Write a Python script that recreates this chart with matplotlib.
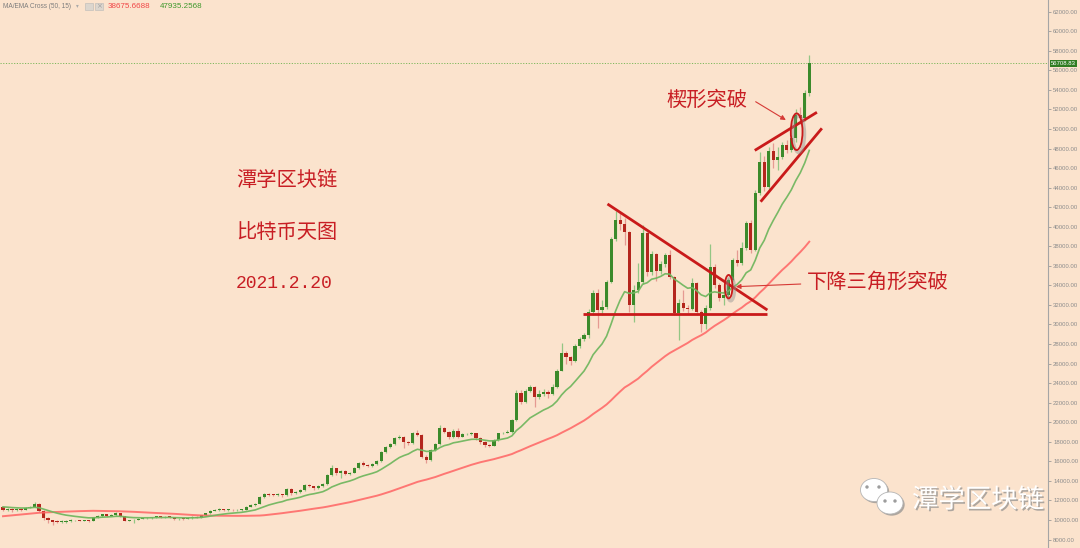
import numpy as np
import pandas as pd
import matplotlib
matplotlib.use('Agg')
import matplotlib.pyplot as plt
import matplotlib.patheffects as pe
from matplotlib.patches import Ellipse, Rectangle
from matplotlib.transforms import blended_transform_factory

plt.rcParams['font.family'] = ['Noto Sans CJK SC', 'DejaVu Sans']

# daily BTC candles, 2020-08-25 .. 2021-02-20
opens = [11380, 11020, 11120, 10990, 11080, 11060, 11250, 11380, 11640, 10960,
         10170, 9950, 9830, 9800, 9810, 9850, 9950, 9960, 9920, 9930,
         9900, 10270, 10400, 10580, 10420, 10510, 10680, 10400, 9940, 9950,
         10000, 10150, 10180, 10210, 10280, 10360, 10270, 10330, 10290, 10080,
         10150, 10130, 10200, 10330, 10250, 10510, 10700, 10950, 10980, 11090,
         11020, 11050, 11000, 11030, 11050, 11360, 11540, 11650, 12390, 12640,
         12600, 12560, 12620, 12550, 13170, 12730, 12900, 13080, 13580, 13450,
         13230, 13480, 13680, 14600, 15280, 14800, 15050, 14750, 14850, 15290,
         15800, 15620, 15560, 15700, 16030, 16990, 17500, 17780, 18360, 18480,
         18000, 17900, 18930, 18700, 16480, 16140, 17160, 17780, 19380, 19040,
         18460, 19140, 18530, 18760, 18800, 18870, 18350, 17990, 17670, 17600,
         18180, 18870, 18930, 19040, 20230, 23020, 22100, 23230, 23570, 22620,
         22900, 23100, 22900, 23640, 25270, 27120, 26710, 26300, 27800, 28480,
         28930, 31310, 33250, 31480, 31820, 34320, 38750, 40690, 40250, 39430,
         32000, 33530, 34370, 39330, 35340, 37180, 35470, 36160, 37110, 34890,
         31200, 32170, 31660, 31600, 34220, 31310, 30020, 31660, 35900, 34000,
         32700, 33020, 34560, 36600, 36300, 37800, 40350, 37620, 43420, 46650,
         44100, 47780, 46830, 47170, 48360, 47850, 49050, 51430, 51100, 53650]
highs = [11480, 11250, 11200, 11200, 11180, 11330, 11480, 11800, 11700, 11020,
         10300, 10050, 9950, 9950, 9950, 10080, 10050, 10050, 10030, 10000,
         10330, 10480, 10650, 10640, 10580, 10800, 10700, 10450, 10050, 10080,
         10220, 10250, 10290, 10350, 10430, 10420, 10400, 10380, 10330, 10220,
         10200, 10270, 10400, 10380, 10560, 10760, 11050, 11080, 11180, 11150,
         11130, 11120, 11100, 11130, 11420, 11600, 11750, 12500, 12800, 12750,
         12700, 12720, 12700, 13250, 13250, 13000, 13180, 13650, 13650, 13500,
         13550, 13800, 14700, 15630, 15350, 15150, 15150, 14950, 15380, 15900,
         16000, 15700, 15800, 16150, 17100, 17600, 17900, 18450, 18700, 18550,
         18100, 19000, 19250, 18800, 16600, 17300, 17900, 19700, 19500, 19100,
         19300, 19400, 18900, 18950, 19050, 18950, 18450, 18050, 17800, 18300,
         18950, 19050, 19200, 20350, 23300, 23300, 23400, 23800, 23700, 23300,
         23400, 23300, 23900, 25400, 28100, 27300, 26800, 28000, 28700, 29100,
         31600, 33500, 33600, 32500, 34600, 39000, 41610, 41400, 40900, 39600,
         34000, 36260, 40180, 39500, 37500, 37300, 36500, 37300, 37600, 35000,
         32600, 33530, 32000, 34800, 34300, 31500, 32000, 38200, 36200, 34200,
         33500, 34800, 36800, 37620, 38400, 40600, 40690, 43800, 47680, 47200,
         48200, 48540, 48200, 48700, 48900, 49400, 52000, 52300, 54000, 57570]
lows = [10930, 10900, 10850, 10880, 10950, 11000, 11200, 11330, 10850, 9950,
        9700, 9500, 9650, 9700, 9720, 9780, 9870, 9850, 9850, 9820,
        9860, 10200, 10350, 10330, 10380, 10450, 10300, 9850, 9850, 9650,
        9950, 10080, 10120, 10150, 10220, 10200, 10200, 10220, 10000, 10030,
        10050, 10080, 10150, 10180, 10200, 10450, 10650, 10880, 10920, 10950,
        10960, 10930, 10940, 10970, 11000, 11300, 11480, 11600, 12300, 12450,
        12420, 12480, 12400, 12480, 12600, 12650, 12800, 13000, 13350, 13100,
        13150, 13400, 13600, 14500, 14600, 14300, 14600, 14650, 14780, 15200,
        15500, 15400, 15450, 15650, 15950, 16900, 17400, 17700, 18250, 17330,
        17700, 17800, 18550, 16300, 15800, 16050, 17050, 17700, 18850, 18300,
        18400, 18400, 18450, 18650, 18700, 18200, 17800, 17500, 17450, 17550,
        18100, 18750, 18850, 18950, 20150, 21900, 22000, 23100, 21600, 22400,
        22700, 22500, 22800, 23500, 25200, 26000, 25900, 26200, 27600, 28300,
        28600, 31000, 29610, 31000, 31600, 34200, 38500, 39700, 38140, 31300,
        30290, 33200, 34100, 35000, 35100, 34400, 35200, 35900, 34700, 31000,
        28420, 31400, 31200, 31500, 31000, 29260, 29500, 31500, 33700, 32400,
        32000, 32800, 34400, 36000, 36100, 37600, 37300, 37500, 43200, 43700,
        43900, 46000, 45800, 46900, 47500, 47600, 48700, 50500, 50800, 53400]
closes = [11020, 11120, 10990, 11080, 11060, 11250, 11380, 11640, 10960, 10170,
          9950, 9830, 9800, 9810, 9850, 9950, 9960, 9920, 9930, 9900,
          10270, 10400, 10580, 10420, 10510, 10680, 10400, 9940, 9950, 10000,
          10150, 10180, 10210, 10280, 10360, 10270, 10330, 10290, 10080, 10150,
          10130, 10200, 10330, 10250, 10510, 10700, 10950, 10980, 11090, 11020,
          11050, 11000, 11030, 11050, 11360, 11540, 11650, 12390, 12640, 12600,
          12560, 12620, 12550, 13170, 12730, 12900, 13080, 13580, 13450, 13230,
          13480, 13680, 14600, 15280, 14800, 15050, 14750, 14850, 15290, 15800,
          15620, 15560, 15700, 16030, 16990, 17500, 17780, 18360, 18480, 18000,
          17900, 18930, 18700, 16480, 16140, 17160, 17780, 19380, 19040, 18460,
          19140, 18530, 18760, 18800, 18870, 18350, 17990, 17670, 17600, 18180,
          18870, 18930, 19040, 20230, 23020, 22100, 23230, 23570, 22620, 22900,
          23100, 22900, 23640, 25270, 27120, 26710, 26300, 27800, 28480, 28930,
          31310, 33250, 31480, 31820, 34320, 38750, 40690, 40250, 39430, 32000,
          33530, 34370, 39330, 35340, 37180, 35470, 36160, 37110, 34890, 31200,
          32170, 31660, 31600, 34220, 31310, 30020, 31660, 35900, 34000, 32700,
          33020, 34560, 36600, 36300, 37800, 40350, 37620, 43420, 46650, 44100,
          47780, 46830, 47170, 48360, 47850, 49050, 51430, 51100, 53650, 56708.83]
# closes of the 49 days before the window, only used to warm up MA50 / EMA15
prior_closes = [8950, 9130, 8940, 8990, 8940, 9000, 8950, 8960, 8900, 8830,
                8860, 8880, 8910, 8860, 9090, 9240, 9310, 9250, 9410, 9640,
                10730, 10610, 10800, 10810, 11050, 11500, 10770, 10930, 10890, 11440,
                11460, 11300, 11450, 11380, 11580, 11090, 11260, 11480, 11470, 11560,
                11610, 11980, 11650, 11450, 11560, 11220, 11380, 11350, 11450]

price_ticks = list(range(8000, 62001, 2000))
last_price = 56708.83
ma_value_text = '38675.6688'
ema_value_text = '47935.2568'

# hand drawn pattern lines (day index, price)
tri_top = ([134.2, 169.7], [42330, 31480])
tri_base = ([128.8, 169.7], [31075, 31075])
wedge_top = ([166.9, 180.7], [47810, 51710])
wedge_bot = ([168.2, 181.8], [42560, 50070])

bg = '#FBE3CD'
up_body, dn_body = '#3B8A2B', '#B4261D'
up_wick, dn_wick = '#93C684', '#E59A92'
mark_red = '#C91A1A'

all_close = pd.Series(prior_closes + closes)
ma50 = all_close.rolling(50).mean().iloc[len(prior_closes):].to_numpy()
ema15 = all_close.ewm(span=15, adjust=False).mean().iloc[len(prior_closes):].to_numpy()

o = np.array(opens, float)
h = np.array(highs, float)
l = np.array(lows, float)
c = np.array(closes, float)
x = np.arange(len(c))
up = c >= o

fig = plt.figure(figsize=(10.8, 5.48), dpi=100, facecolor=bg)
ax = fig.add_axes([0, 0, 1048 / 1080, 1])
ax.set_facecolor(bg)

ax.vlines(x, l, h, colors=np.where(up, up_wick, dn_wick), linewidth=0.9, zorder=2)
body_h = np.maximum(np.abs(c - o), 70)
ax.bar(x, body_h, bottom=np.minimum(o, c), width=0.7,
       color=np.where(up, up_body, dn_body), linewidth=0, zorder=3)

ax.plot(x, ma50, color='#FF6464', lw=1.4, alpha=0.85, zorder=4)
ax.plot(x, ema15, color='#72B760', lw=1.2, alpha=0.95, zorder=4)

ax.axhline(last_price, color='#7DB85C', lw=0.7, ls=(0, (1.2, 1.6)), zorder=1)

for xs, ys in (tri_top, tri_base, wedge_top, wedge_bot):
    ax.plot(xs, ys, color=mark_red, lw=2.0, solid_capstyle='butt', zorder=6)

for cx, cy, w, hh in ((176.2, 49720, 2.6, 3750), (161.1, 33870, 1.7, 2400)):
    ax.add_patch(Ellipse((cx + 0.45, cy - 250), w, hh, fill=False,
                         ec='#8f8f8f', lw=2.4, alpha=0.45, zorder=6))
    ax.add_patch(Ellipse((cx, cy), w, hh, fill=False, ec=mark_red, lw=1.3, zorder=7))

ax.annotate('', xy=(173.8, 50920), xytext=(167.1, 52790),
            arrowprops=dict(arrowstyle='-|>', color='#D63A36', lw=0.8,
                            mutation_scale=7, shrinkA=0, shrinkB=0), zorder=7)
ax.annotate('', xy=(162.7, 33870), xytext=(177.1, 34140),
            arrowprops=dict(arrowstyle='-|>', color='#D63A36', lw=0.8,
                            mutation_scale=7, shrinkA=0, shrinkB=0), zorder=7)

ax.set_xlim(-0.667, 232)
ax.set_ylim(7135, 63197)
ax.set_xticks([])
ax.yaxis.tick_right()
ax.set_yticks(price_ticks)
ax.set_yticklabels([f'{t:.2f}' for t in price_ticks],
                   family=['Liberation Sans', 'DejaVu Sans'])
ax.tick_params(axis='y', labelsize=4.3, colors='#8c8c8c', length=2.5,
               width=0.5, pad=1.2)
for side in ('top', 'left', 'bottom'):
    ax.spines[side].set_visible(False)
ax.spines['right'].set_color('#a5a5a5')
ax.spines['right'].set_linewidth(0.8)

tr = blended_transform_factory(ax.transAxes, ax.transData)
ax.text(1.003, last_price, f'{last_price:.2f}', transform=tr, ha='left', va='center',
        fontsize=4.3, color='white', family=['Liberation Sans', 'DejaVu Sans'],
        bbox=dict(fc='#2F7D22', ec='none', pad=0.9), zorder=8, clip_on=False)

# overlay in pixel coordinates for header, notes and watermark
ov = fig.add_axes([0, 0, 1, 1])
ov.set_xlim(0, 1080)
ov.set_ylim(548, 0)
ov.axis('off')
ov.patch.set_alpha(0)

lat = ['Liberation Sans', 'DejaVu Sans']
ov.text(3, 6, 'MA/EMA Cross (50, 15)', fontsize=4.7, color='#7d7d7d', va='center', family=lat)
ov.text(76, 6, '▾', fontsize=4, color='#a9a9a9', va='center', family=['DejaVu Sans'])
ov.add_patch(Rectangle((85, 2.5), 7.5, 7.5, fc='#dcd6ce', ec='#c4c0bb', lw=0.5))
ov.add_patch(Rectangle((95, 2.5), 7.5, 7.5, fc='#dcd6ce', ec='#c4c0bb', lw=0.5))
ov.text(98.8, 6.3, '×', fontsize=5, color='#a0a0a0', ha='center', va='center', family=['DejaVu Sans'])
ov.text(108, 6, ma_value_text, fontsize=5.8, color='#F04646', va='center', family=lat)
ov.text(159.5, 6, ema_value_text, fontsize=5.8, color='#3E982C', va='center', family=lat)

title_red = '#C81E24'
ov.text(236, 180, '潭学区块链', fontsize=14.6, color=title_red, va='center', ha='left')
ov.text(236, 232, '比特币天图', fontsize=14.6, color=title_red, va='center', ha='left')
ov.text(236, 284, '2021.2.20', fontsize=13, color=title_red, va='center', ha='left',
        family=['Liberation Mono', 'DejaVu Sans Mono'])
ov.text(707, 100, '楔形突破', fontsize=14.6, color=title_red, va='center', ha='center')
ov.text(878, 282, '下降三角形突破', fontsize=14.6, color=title_red, va='center', ha='center')

# watermark: wechat icon + name
shadow = [pe.withSimplePatchShadow(offset=(1.2, -1.2), shadow_rgbFace='#8c8c8c', alpha=0.7)]
for (ex, ey, ew, eh) in ((874, 490, 27, 23), (890, 503, 26, 22)):
    ov.add_patch(Ellipse((ex, ey), ew, eh, fc='white', ec='#b5b5b5', lw=0.6,
                         path_effects=shadow))
for (dx, dy) in ((867, 487), (879, 487), (885, 501), (895, 501)):
    ov.add_patch(Ellipse((dx, dy), 3.4, 3.4, fc='#9d9d9d', ec='none'))
ov.text(912, 500, '潭学区块链', fontsize=19, color='white', va='center', ha='left',
        path_effects=shadow)

fig.savefig('out.png', dpi=100, facecolor=bg)
